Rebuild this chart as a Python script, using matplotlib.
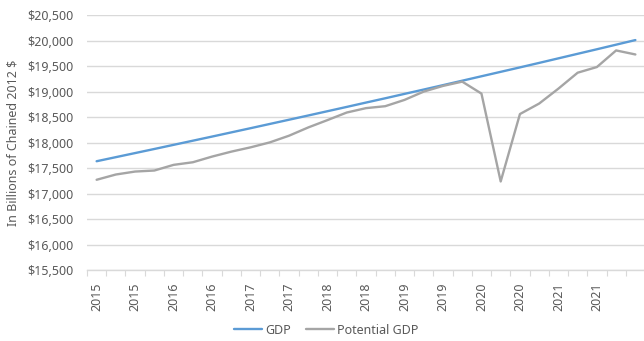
import matplotlib
matplotlib.use("Agg")
import matplotlib.pyplot as plt

plt.rcParams['font.family'] = ['Noto Sans', 'DejaVu Sans']

tick_labels = ["2015", "2015", "2016", "2016", "2017", "2017", "2018", "2018",
               "2019", "2019", "2020", "2020", "2021", "2021"]

gdp = [17636, 17716, 17796, 17876, 17957, 18038, 18119, 18201, 18283, 18366,
       18449, 18532, 18616, 18700, 18785, 18869, 18955, 19040, 19126, 19213,
       19300, 19387, 19474, 19562, 19651, 19740, 19829, 19919, 20009]

potential_gdp = [17273, 17376, 17434, 17454, 17565, 17616, 17727, 17824, 17908, 18005,
                 18136, 18298, 18442, 18590, 18676, 18714, 18837, 19000, 19111, 19195,
                 18961, 17240, 18560, 18766, 19058, 19370, 19481, 19806, 19727]

W, H = 644, 341
fig = plt.figure(figsize=(W / 100, H / 100), dpi=100)
left, right, top, bottom = 87, 645, 15, 270.3
ax = fig.add_axes([left / W, 1 - bottom / H, (right - left) / W, (bottom - top) / H])

x = list(range(len(gdp)))
l1, = ax.plot(x, gdp, color="#5B9BD5", lw=1.7, solid_capstyle="round", label="GDP")
l2, = ax.plot(x, potential_gdp, color="#A5A5A5", lw=1.7, solid_capstyle="round",
              label="Potential GDP")

ax.set_xlim(-0.5, len(gdp) - 0.5)
ax.set_ylim(15500, 20500)
yt = list(range(15500, 20501, 500))
ax.set_yticks(yt)
ax.set_yticklabels([f"${v:,}" for v in yt])
ax.tick_params(axis="y", length=0, pad=10, labelsize=9, labelcolor="#595959")
ax.grid(axis="y", color="#D9D9D9", lw=1)
ax.set_axisbelow(True)

ax.set_xticks([i * 2 for i in range(len(tick_labels))])
ax.set_xticklabels(tick_labels, rotation=90)
ax.set_xticks([i - 0.5 for i in range(len(gdp) + 1)], minor=True)
ax.tick_params(axis="x", which="major", length=0, pad=9, labelsize=9,
               labelcolor="#595959")
ax.tick_params(axis="x", which="minor", length=4, width=0.8, color="#D9D9D9",
               direction="out")

for s in ["top", "right", "left"]:
    ax.spines[s].set_visible(False)
ax.spines["bottom"].set_color("#D9D9D9")
ax.spines["bottom"].set_linewidth(1)

ax.set_ylabel("In Billions of Chained 2012 $", fontsize=9, color="#595959")
ax.yaxis.set_label_coords(-(87 - 13) / (right - left), 0.5)
ax.yaxis.label.set_va("center")

fig.legend(handles=[l1, l2], loc="center", bbox_to_anchor=(326 / W, 1 - 330 / H),
           ncol=2, frameon=False, fontsize=9, labelcolor="#595959",
           handlelength=2.3, handletextpad=0.2, columnspacing=1.2)

fig.savefig("out.png", dpi=100)
